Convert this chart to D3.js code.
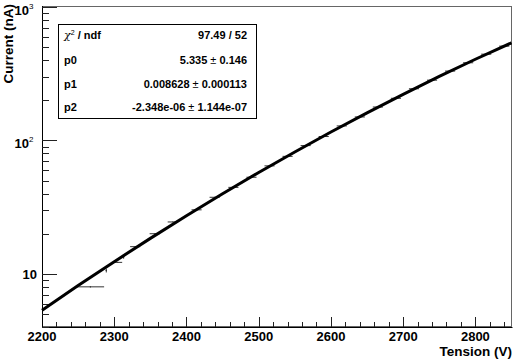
<!DOCTYPE html>
<html>
<head>
<meta charset="utf-8">
<script src="https://cdn.jsdelivr.net/npm/d3@7"></script>
<style>
  body { margin: 0; background: #fff; }
  svg text { font-family: "Liberation Sans", Arial, sans-serif; font-weight: bold; fill: #000; }
</style>
</head>
<body>
<svg id="viz" width="513" height="359"></svg>
<script>
// Measured points (tension in V, current in nA) with their errors
var tension  = [2267, 2289, 2305, 2313, 2329, 2356, 2381, 2414, 2439, 2465, 2490, 2515, 2540, 2565, 2590, 2615, 2640, 2665, 2690, 2715, 2740, 2765, 2790, 2815, 2840];
var tensionErr = [19, 1, 6, 1, 7, 7, 7, 7, 7, 7, 7, 7, 7, 7, 7, 7, 7, 7, 7, 7, 7, 7, 7, 7, 7];
var current  = [8.0, 10.6, 12.2, 13.4, 16.0, 20.0, 24.5, 30.2, 37.5, 44.5, 53, 64.5, 76, 91.5, 107, 128.5, 150, 178, 207, 244, 283, 331, 382, 443, 509];
var currentErr = [0.1, 0.35, 0.1, 0.4, 0.1, 0.15, 0.2, 0.25, 0.3, 0.4, 0.5, 0.6, 0.7, 0.8, 1, 1.2, 1.4, 1.6, 2, 2.3, 2.6, 3, 3.5, 4, 4.5];

// Fit curve
var fitTension = [2200, 2250, 2300, 2350, 2400, 2450, 2500, 2550, 2600, 2650, 2700, 2750, 2800, 2850];
var fitCurrent = [5.34, 8.17, 12.35, 18.46, 27.27, 39.83, 57.49, 81.99, 115.6, 161.0, 221.7, 301.7, 405.8, 539];

// Stats box
var statLabels = ["p0", "p1", "p2"];
var statValues = ["5.335", "0.008628", "-2.348e-06"];
var statErrors = ["0.146", "0.000113", "1.144e-07"];
var chi2ndf = "97.49 / 52";

var xTicks = [2200, 2300, 2400, 2500, 2600, 2700, 2800];

var svg = d3.select("#viz");
var padL = 42, padR = 511.5, padT = 7, padB = 327;

var x = d3.scaleLinear().domain([2200, 2850]).range([padL, padR]);
var y = d3.scaleLog().domain([4, 1000]).range([padB, padT]);

// frame
svg.append("rect")
  .attr("x", padL + 0.5).attr("y", padT - 0.5)
  .attr("width", padR - padL - 0.5).attr("height", padB - padT)
  .attr("fill", "none").attr("stroke", "#666").attr("stroke-width", 1);

// x axis
var g = svg.append("g");
g.append("line").attr("x1", padL).attr("x2", padR + 1)
  .attr("y1", padB + 0.5).attr("y2", padB + 0.5)
  .attr("stroke", "#000");

var xMinor = d3.range(2200, 2851, 20);
g.selectAll(".xminor").data(xMinor).enter().append("line")
  .attr("x1", d => Math.round(x(d)) + 0.5).attr("x2", d => Math.round(x(d)) + 0.5)
  .attr("y1", padB).attr("y2", d => xTicks.indexOf(d) >= 0 ? padB - 10 : padB - 5)
  .attr("stroke", "#222");

g.selectAll(".xlab").data(xTicks).enter().append("text")
  .attr("x", d => x(d)).attr("y", 341)
  .attr("text-anchor", "middle").style("font-size", "13px")
  .text(d => d);

svg.append("text").attr("x", 512).attr("y", 356)
  .attr("text-anchor", "end").style("font-size", "13.5px")
  .text("Tension (V)");

// y axis
g.append("line").attr("x1", padL + 0.5).attr("x2", padL + 0.5)
  .attr("y1", padT - 1).attr("y2", padB + 1)
  .attr("stroke", "#000");

var yMinor = [];
[1, 10, 100].forEach(dec => { for (var k = 1; k <= 9; k++) if (dec * k >= 4) yMinor.push(dec * k); });
yMinor.push(1000);
g.selectAll(".yminor").data(yMinor).enter().append("line")
  .attr("x1", padL).attr("x2", d => [10, 100, 1000].indexOf(d) >= 0 ? padL + 15 : padL + 7)
  .attr("y1", d => Math.round(y(d)) + 0.5).attr("y2", d => Math.round(y(d)) + 0.5)
  .attr("stroke", "#222");

svg.append("text").attr("x", 37).attr("y", y(10) + 5)
  .attr("text-anchor", "end").style("font-size", "13px").text("10");
[[100, "2"], [1000, "3"]].forEach(p => {
  svg.append("text").attr("x", 29).attr("y", y(p[0]) + 8)
    .attr("text-anchor", "end").style("font-size", "13px").text("10");
  svg.append("text").attr("x", 29).attr("y", y(p[0]) + 2)
    .style("font-size", "8px").style("font-weight", "normal").text(p[1]);
});

svg.append("text")
  .attr("transform", "translate(13,4) rotate(-90)")
  .attr("text-anchor", "end").style("font-size", "13.5px")
  .text("Current (nA)");

// error bars
var pts = svg.append("g");
tension.forEach((v, i) => {
  pts.append("line")
    .attr("x1", x(v - tensionErr[i])).attr("x2", x(v + tensionErr[i]))
    .attr("y1", y(current[i])).attr("y2", y(current[i]))
    .attr("stroke", "#333").attr("stroke-width", 1);
  pts.append("line")
    .attr("x1", x(v)).attr("x2", x(v))
    .attr("y1", y(current[i] - currentErr[i])).attr("y2", y(current[i] + currentErr[i]))
    .attr("stroke", "#333").attr("stroke-width", 1);
});

// fit line
var line = d3.line()
  .x(d => x(d[0])).y(d => y(d[1]))
  .curve(d3.curveMonotoneX);
svg.append("path")
  .datum(fitTension.map((v, i) => [v, fitCurrent[i]]))
  .attr("d", line)
  .attr("fill", "none").attr("stroke", "#000").attr("stroke-width", 3);

// stats box
var box = svg.append("g");
box.append("rect").attr("x", 58.5).attr("y", 24.5).attr("width", 198).attr("height", 94)
  .attr("fill", "#fff").attr("stroke", "#000").attr("stroke-width", 1);

var rowY = [39, 64, 88, 111];
var chiLab = box.append("text").attr("x", 64).attr("y", rowY[0]).style("font-size", "11px");
chiLab.append("tspan").style("font-weight", "normal").style("font-family", "DejaVu Serif, serif").style("font-style", "italic").text("χ");
chiLab.append("tspan").attr("dy", -4).style("font-size", "7px").style("font-weight", "normal").text("2");
chiLab.append("tspan").attr("dy", 4).text(" / ndf");
box.append("text").attr("x", 247).attr("y", rowY[0]).attr("text-anchor", "end")
  .style("font-size", "11px").text(chi2ndf);

statLabels.forEach((lab, i) => {
  box.append("text").attr("x", 64).attr("y", rowY[i + 1]).style("font-size", "11px").text(lab);
  var t = box.append("text").attr("x", 247).attr("y", rowY[i + 1]).attr("text-anchor", "end")
    .style("font-size", "11px");
  t.append("tspan").text(statValues[i]);
  t.append("tspan").style("font-weight", "normal").text(" ± ");
  t.append("tspan").text(statErrors[i]);
});
</script>
</body>
</html>
